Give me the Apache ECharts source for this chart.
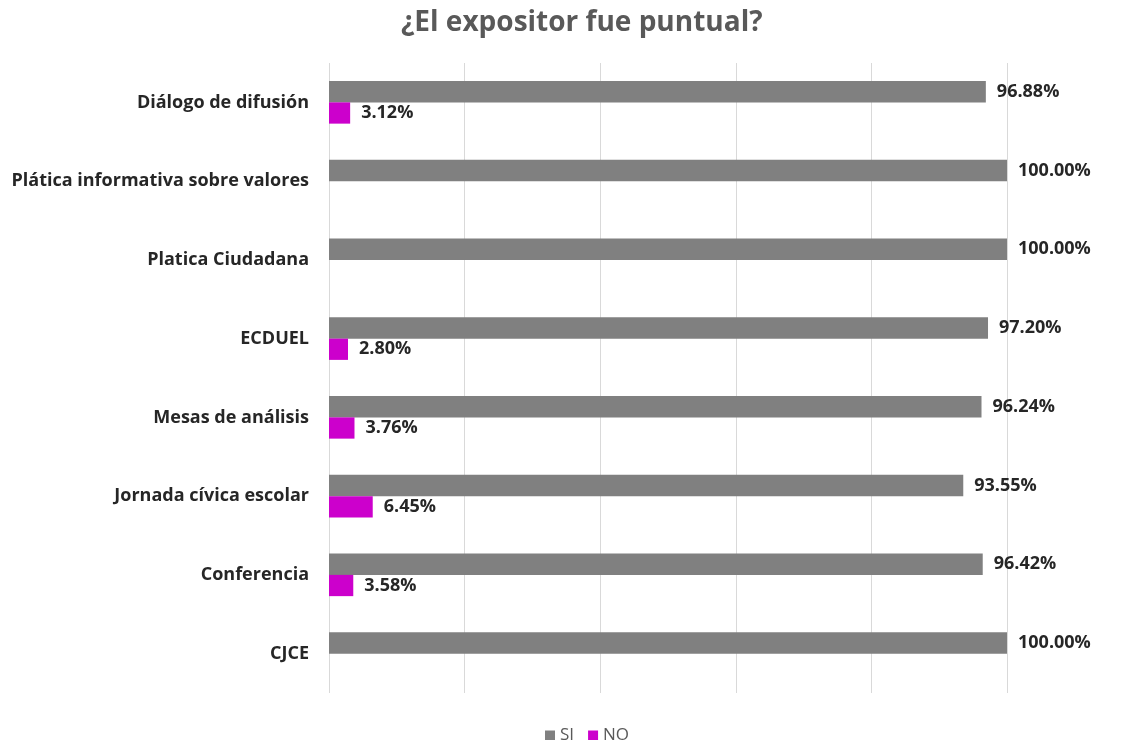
<!DOCTYPE html>
<html><head><meta charset="utf-8">
<script src="https://cdn.jsdelivr.net/npm/echarts@6/dist/echarts.min.js"></script>
<style>html,body{margin:0;padding:0;background:#fff}#c{width:1133px;height:740px}</style>
</head><body><div id="c"></div>
<script>
const categories = ["Diálogo de difusión","Plática informativa sobre valores","Platica Ciudadana","ECDUEL","Mesas de análisis","Jornada cívica escolar","Conferencia","CJCE"];
const siValues = [96.88,100,100,97.20,96.24,93.55,96.42,100];
const noValues = [3.12,null,null,2.80,3.76,6.45,3.58,null];
const fontFam = '"Open Sans", Lato, "Liberation Sans", sans-serif';
const chart = echarts.init(document.getElementById('c'));
const lbl = {show:true, position:'right', distance:11, fontFamily:fontFam, fontWeight:'bold', fontSize:18, color:'#262626',
  formatter: p => p.value == null ? '' : p.value.toFixed(2) + '%'};
chart.setOption({
  animation:false,
  title:{text:'¿El expositor fue puntual?', left:396, top:4,
    textStyle:{fontFamily:fontFam, fontWeight:'bold', fontSize:28, color:'#595959'}},
  legend:{top:722, left:540, itemWidth:10, itemHeight:10, itemGap:14, icon:'rect',
    textStyle:{fontFamily:fontFam, fontSize:17, color:'#595959'}, data:['SI','NO']},
  grid:{left:329, right:126, top:63, bottom:47, containLabel:false},
  xAxis:{type:'value', min:0, max:100, interval:20, axisLabel:{show:false},
    axisLine:{show:false}, axisTick:{show:false},
    splitLine:{lineStyle:{color:'#D9D9D9', width:1}}},
  yAxis:{type:'category', inverse:true, data:categories,
    axisLine:{show:false}, axisTick:{show:false},
    axisLabel:{margin:20, fontFamily:fontFam, fontWeight:'bold', fontSize:18, color:'#262626'}},
  series:[
    {name:'SI', type:'bar', data:siValues, itemStyle:{color:'#808080'}, barGap:'0%', barCategoryGap:'46%', label:lbl},
    {name:'NO', type:'bar', data:noValues, itemStyle:{color:'#CC00CC'}, barGap:'0%', barCategoryGap:'46%', label:lbl}
  ]
});
</script></body></html>
